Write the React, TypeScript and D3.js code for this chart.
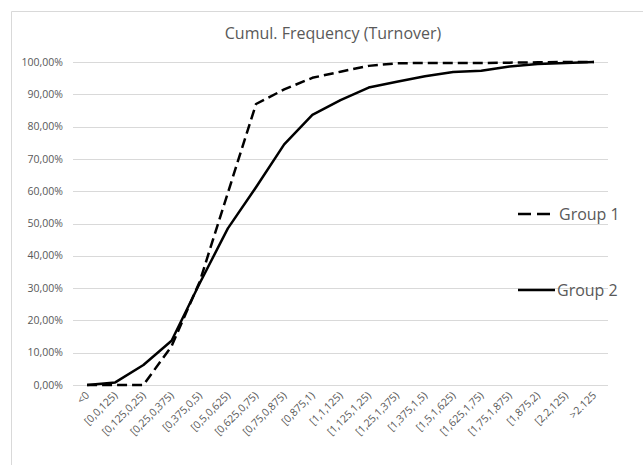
import React from "react";
import * as d3 from "d3";

// Turnover bins (decimal comma, as labelled on the axis)
const categories: string[] = [
  "<0",
  "[0,0,125)",
  "[0,125,0,25)",
  "[0,25,0,375)",
  "[0,375,0,5)",
  "[0,5,0,625)",
  "[0,625,0,75)",
  "[0,75,0,875)",
  "[0,875,1)",
  "[1,1,125)",
  "[1,125,1,25)",
  "[1,25,1,375)",
  "[1,375,1,5)",
  "[1,5,1,625)",
  "[1,625,1,75)",
  "[1,75,1,875)",
  "[1,875,2)",
  "[2,2,125)",
  ">2.125",
];

// Cumulative frequency, in percent
const group1: number[] = [
  0, 0, 0, 12, 32, 59.5, 87, 91.5, 95.1, 97, 98.8, 99.6, 99.7, 99.7, 99.7, 99.8, 99.9, 100, 100,
];
const group2: number[] = [
  0, 0.8, 6.2, 13.7, 31.5, 48.5, 61.2, 74.5, 83.6, 88.2, 92.1, 93.9, 95.6, 96.9, 97.3, 98.6, 99.4, 99.7, 100,
];

const yTicks: number[] = [0, 10, 20, 30, 40, 50, 60, 70, 80, 90, 100];

const W = 643;
const H = 465;
const plot = { left: 73, right: 608, top: 62, bottom: 385 };
const textColor = "#595959";
const gridColor = "#d9d9d9";
const font = "'Open Sans', 'Noto Sans', sans-serif";

export default function App() {
  const x = d3
    .scaleBand<string>()
    .domain(categories)
    .range([plot.left, plot.right]);
  const y = d3.scaleLinear().domain([0, 100]).range([plot.bottom, plot.top]);
  const cx = (i: number) => (x(categories[i]) as number) + x.bandwidth() / 2;

  const line = d3
    .line<number>()
    .x((_, i) => cx(i))
    .y((d) => y(d));

  const fmt = (v: number) => v.toFixed(2).replace(".", ",") + "%";

  return (
    <svg
      width={W}
      height={H}
      style={{ position: "absolute", left: 0, top: 0, background: "#fff" }}
    >
      {/* chart frame */}
      <line x1={11.5} y1={11.5} x2={W} y2={11.5} stroke={gridColor} />
      <line x1={11.5} y1={11.5} x2={11.5} y2={H} stroke={gridColor} />

      <text
        x={333}
        y={39}
        textAnchor="middle"
        fontFamily={font}
        fontSize={16}
        fill={textColor}
      >
        Cumul. Frequency (Turnover)
      </text>

      {/* horizontal gridlines and y labels */}
      {yTicks.map((t) => (
        <g key={t}>
          <line
            x1={plot.left}
            x2={plot.right}
            y1={Math.round(y(t)) + 0.5}
            y2={Math.round(y(t)) + 0.5}
            stroke={gridColor}
          />
          <text
            x={63}
            y={y(t)}
            dy="0.35em"
            textAnchor="end"
            fontFamily={font}
            fontSize={10.5}
            fill={textColor}
          >
            {fmt(t)}
          </text>
        </g>
      ))}

      {/* category labels */}
      {categories.map((c, i) => (
        <text
          key={c}
          transform={`translate(${cx(i) + 3},${396}) rotate(-45)`}
          textAnchor="end"
          fontFamily={font}
          fontSize={10.5}
          fill={textColor}
        >
          {c}
        </text>
      ))}

      <path
        d={line(group2) ?? ""}
        fill="none"
        stroke="#000"
        strokeWidth={2.5}
        strokeLinejoin="round"
      />
      <path
        d={line(group1) ?? ""}
        fill="none"
        stroke="#000"
        strokeWidth={2.5}
        strokeDasharray="10,5"
        strokeLinejoin="round"
      />

      {/* legend */}
      <line
        x1={518}
        x2={553}
        y1={214}
        y2={214}
        stroke="#000"
        strokeWidth={2.5}
        strokeDasharray="13,6"
      />
      <text x={559} y={214} dy="0.35em" fontFamily={font} fontSize={16} fill={textColor}>
        Group 1
      </text>
      <line x1={518} x2={555} y1={290} y2={290} stroke="#000" strokeWidth={2.5} />
      <text x={557} y={290} dy="0.35em" fontFamily={font} fontSize={16} fill={textColor}>
        Group 2
      </text>
    </svg>
  );
}
